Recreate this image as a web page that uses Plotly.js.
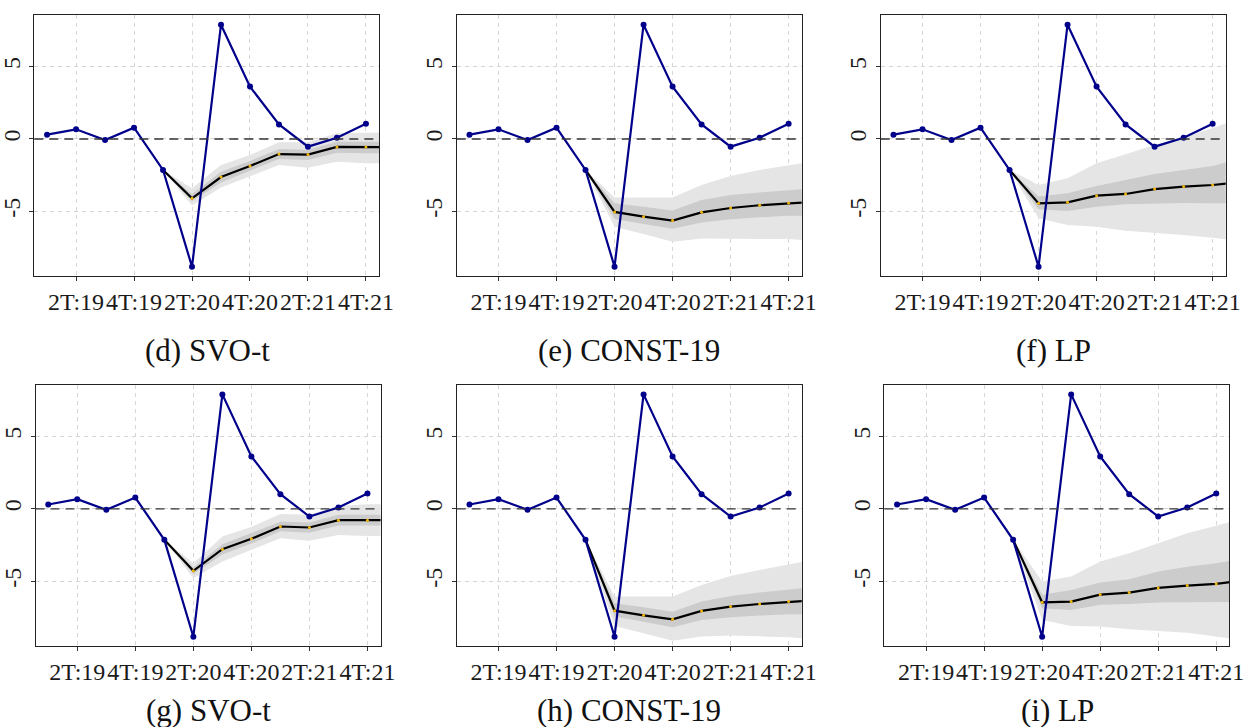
<!DOCTYPE html>
<html>
<head>
<meta charset="utf-8">
<script src="https://cdn.plot.ly/plotly-3.0.1.min.js"></script>
<style>
html,body{margin:0;padding:0;background:#fff;}
#chart{width:1245px;height:727px;}
</style>
</head>
<body>
<div id="chart"></div>
<script>
// Quarters (index 12 lies beyond the visible range and is clipped)
const quarters = ["1T:19","2T:19","3T:19","4T:19","1T:20","2T:20","3T:20","4T:20","1T:21","2T:21","3T:21","4T:21","1T:22"];
const tickQuarters = ["2T:19","4T:19","2T:20","4T:20","2T:21","4T:21"];
const observed = [0.30,0.67,-0.07,0.78,-2.14,-8.83,7.90,3.62,1.01,-0.53,0.09,1.06];
const forecastStart = 4; // forecasts start at 1T:20

// Panel (d) SVO-t
const d_median   = [-2.14,-4.10,-2.63,-1.87,-1.04,-1.08,-0.55,-0.56,-0.56];
const d_outer_hi = [-2.14,-3.40,-1.80,-1.10,-0.23,-0.23,0.39,0.46,0.46];
const d_outer_lo = [-2.14,-4.60,-3.36,-2.60,-1.80,-1.98,-1.57,-1.68,-1.68];
const d_inner_hi = [-2.14,-3.80,-2.26,-1.52,-0.69,-0.74,-0.19,-0.19,-0.19];
const d_inner_lo = [-2.14,-4.30,-3.00,-2.21,-1.38,-1.45,-0.95,-0.98,-0.98];
// Panel (e) CONST-19
const e_median   = [-2.14,-5.04,-5.37,-5.64,-5.07,-4.77,-4.58,-4.42,-4.33];
const e_outer_hi = [-2.14,-4.05,-4.05,-4.05,-3.18,-2.56,-2.14,-1.82,-1.51];
const e_outer_lo = [-2.14,-6.06,-6.57,-7.10,-6.87,-6.90,-6.90,-6.92,-7.05];
const e_inner_hi = [-2.14,-4.45,-4.68,-4.95,-4.22,-3.87,-3.69,-3.52,-3.39];
const e_inner_lo = [-2.14,-5.53,-5.87,-6.20,-5.78,-5.55,-5.41,-5.30,-5.30];
// Panel (f) LP
const f_median   = [-2.14,-4.45,-4.38,-3.92,-3.80,-3.46,-3.29,-3.18,-2.98];
const f_outer_hi = [-2.14,-3.18,-2.72,-1.68,-1.06,-0.41,0.16,0.74,1.50];
const f_outer_lo = [-2.14,-5.48,-5.94,-6.06,-6.34,-6.47,-6.63,-6.82,-7.06];
const f_inner_hi = [-2.14,-3.98,-3.75,-3.25,-2.83,-2.42,-2.14,-1.87,-1.29];
const f_inner_lo = [-2.14,-4.86,-4.98,-4.68,-4.51,-4.45,-4.42,-4.45,-4.45];
// Panel (g) SVO-t
const g_median   = [-2.14,-4.28,-2.79,-2.07,-1.22,-1.29,-0.78,-0.78,-0.78];
const g_outer_hi = [-2.14,-3.76,-1.91,-1.25,-0.35,-0.40,0.20,0.32,0.32];
const g_outer_lo = [-2.14,-4.79,-3.64,-2.85,-2.03,-2.20,-1.80,-1.87,-1.87];
const g_inner_hi = [-2.14,-4.05,-2.45,-1.70,-0.90,-0.95,-0.40,-0.40,-0.40];
const g_inner_lo = [-2.14,-4.50,-3.15,-2.40,-1.55,-1.65,-1.15,-1.15,-1.15];
// Panel (h) CONST-19
const h_median   = [-2.14,-7.03,-7.35,-7.63,-7.05,-6.75,-6.57,-6.40,-6.29];
const h_outer_hi = [-2.14,-6.06,-6.06,-6.06,-5.25,-4.63,-4.22,-3.87,-3.47];
const h_outer_lo = [-2.14,-8.09,-8.59,-9.10,-8.82,-8.75,-8.80,-8.87,-9.02];
const h_inner_hi = [-2.14,-6.52,-6.80,-7.10,-6.40,-6.01,-5.78,-5.60,-5.38];
const h_inner_lo = [-2.14,-7.44,-7.79,-8.18,-7.67,-7.49,-7.37,-7.28,-7.28];
// Panel (i) LP
const i_median   = [-2.14,-6.45,-6.40,-5.92,-5.78,-5.46,-5.30,-5.18,-4.94];
const i_outer_hi = [-2.14,-5.02,-4.68,-3.64,-3.06,-2.37,-1.68,-1.17,-0.61];
const i_outer_lo = [-2.14,-7.67,-8.09,-8.13,-8.32,-8.41,-8.55,-8.82,-9.09];
const i_inner_hi = [-2.14,-5.94,-5.60,-5.09,-4.86,-4.33,-3.99,-3.75,-3.39];
const i_inner_lo = [-2.14,-6.86,-6.98,-6.63,-6.57,-6.47,-6.45,-6.43,-6.43];

const captions = ["(d) SVO-t","(e) CONST-19","(f) LP","(g) SVO-t","(h) CONST-19","(i) LP"];

const panels = [
  {med:d_median, oh:d_outer_hi, ol:d_outer_lo, ih:d_inner_hi, il:d_inner_lo},
  {med:e_median, oh:e_outer_hi, ol:e_outer_lo, ih:e_inner_hi, il:e_inner_lo},
  {med:f_median, oh:f_outer_hi, ol:f_outer_lo, ih:f_inner_hi, il:f_inner_lo},
  {med:g_median, oh:g_outer_hi, ol:g_outer_lo, ih:g_inner_hi, il:g_inner_lo},
  {med:h_median, oh:h_outer_hi, ol:h_outer_lo, ih:h_inner_hi, il:h_inner_lo},
  {med:i_median, oh:i_outer_hi, ol:i_outer_lo, ih:i_inner_hi, il:i_inner_lo}
];

// Layout geometry (pixels)
const W = 1245, H = 727;
const frames = [
  [34.3, 379, 15, 276],
  [456.7, 801.7, 15, 276],
  [880.7, 1225.7, 15, 276],
  [35.5, 380.5, 384.7, 646],
  [456.7, 801.7, 384.7, 646],
  [884.3, 1229.3, 384.7, 646]
];
const captionX = [207, 629, 1053, 208, 629, 1057];
const captionY = [350, 710];

const FONT = "'Liberation Serif', 'DejaVu Serif', serif";
const obsIdx = observed.map((_, k) => k);
const fcIdx = quarters.slice(forecastStart).map((_, k) => k + forecastStart);
const tickIdx = tickQuarters.map(q => quarters.indexOf(q));

const traces = [];
const layout = {
  width: W, height: H,
  margin: {l:0, r:0, t:0, b:0},
  paper_bgcolor: "#ffffff",
  plot_bgcolor: "#ffffff",
  showlegend: false,
  font: {family: FONT, color: "#1a1a1a"},
  shapes: [],
  annotations: []
};

panels.forEach((p, n) => {
  const k = n + 1;
  const xa = k === 1 ? "x" : "x" + k;
  const ya = k === 1 ? "y" : "y" + k;
  const fr = frames[n];
  layout["xaxis" + (k === 1 ? "" : k)] = {
    domain: [fr[0] / W, fr[1] / W],
    anchor: ya,
    range: [-0.44, 11.45],
    tickmode: "array",
    tickvals: tickIdx,
    ticktext: tickQuarters,
    tickangle: 0,
    ticks: "outside", ticklen: 4, tickwidth: 1, tickcolor: "#333",
    tickfont: {family: FONT, size: 24, color: "#1a1a1a"},
    showgrid: true, gridcolor: "#d6d6d6", gridwidth: 1, griddash: "4px,4px",
    zeroline: false,
    showline: true, linecolor: "#222", linewidth: 1, mirror: true,
    fixedrange: true
  };
  layout["yaxis" + (k === 1 ? "" : k)] = {
    domain: [1 - fr[3] / H, 1 - fr[2] / H],
    anchor: xa,
    range: [-9.47, 8.57],
    tickmode: "array",
    tickvals: [-5, 0, 5],
    ticktext: ["-5", "0", "5"],
    tickangle: -90,
    ticks: "outside", ticklen: 4, tickwidth: 1, tickcolor: "#333",
    tickfont: {family: FONT, size: 24, color: "#1a1a1a"},
    showgrid: true, gridcolor: "#d6d6d6", gridwidth: 1, griddash: "4px,4px",
    zeroline: false,
    showline: true, linecolor: "#222", linewidth: 1, mirror: true,
    fixedrange: true
  };

  // outer band
  traces.push({x: fcIdx, y: p.oh, xaxis: xa, yaxis: ya, type: "scatter", mode: "lines",
    line: {width: 0, color: "rgba(0,0,0,0)"}, hoverinfo: "skip"});
  traces.push({x: fcIdx, y: p.ol, xaxis: xa, yaxis: ya, type: "scatter", mode: "lines",
    line: {width: 0, color: "rgba(0,0,0,0)"}, fill: "tonexty", fillcolor: "#e5e5e5", hoverinfo: "skip"});
  // inner band
  traces.push({x: fcIdx, y: p.ih, xaxis: xa, yaxis: ya, type: "scatter", mode: "lines",
    line: {width: 0, color: "rgba(0,0,0,0)"}, hoverinfo: "skip"});
  traces.push({x: fcIdx, y: p.il, xaxis: xa, yaxis: ya, type: "scatter", mode: "lines",
    line: {width: 0, color: "rgba(0,0,0,0)"}, fill: "tonexty", fillcolor: "#cccccc", hoverinfo: "skip"});
  // median forecast
  traces.push({x: fcIdx, y: p.med, xaxis: xa, yaxis: ya, type: "scatter", mode: "lines+markers",
    line: {width: 2.2, color: "#000000"},
    marker: {size: 3, color: "#f2b600", line: {width: 0}}, cliponaxis: true});
  // observed series
  traces.push({x: obsIdx, y: observed, xaxis: xa, yaxis: ya, type: "scatter", mode: "lines+markers",
    line: {width: 2.2, color: "#00008b"},
    marker: {size: 6, color: "#00008b"}, cliponaxis: true});

  // dashed zero line
  layout.shapes.push({type: "line", xref: xa + " domain", yref: ya, x0: 0, x1: 1, y0: 0, y1: 0,
    line: {color: "#333333", width: 1.3, dash: "9px,6px"}, layer: "above"});

  layout.annotations.push({
    text: captions[n], xref: "paper", yref: "paper",
    x: captionX[n] / W, y: 1 - captionY[n < 3 ? 0 : 1] / H,
    xanchor: "center", yanchor: "middle", showarrow: false,
    font: {family: FONT, size: 31, color: "#111"}
  });
});

Plotly.newPlot("chart", traces, layout, {staticPlot: true, displayModeBar: false});
</script>
</body>
</html>
